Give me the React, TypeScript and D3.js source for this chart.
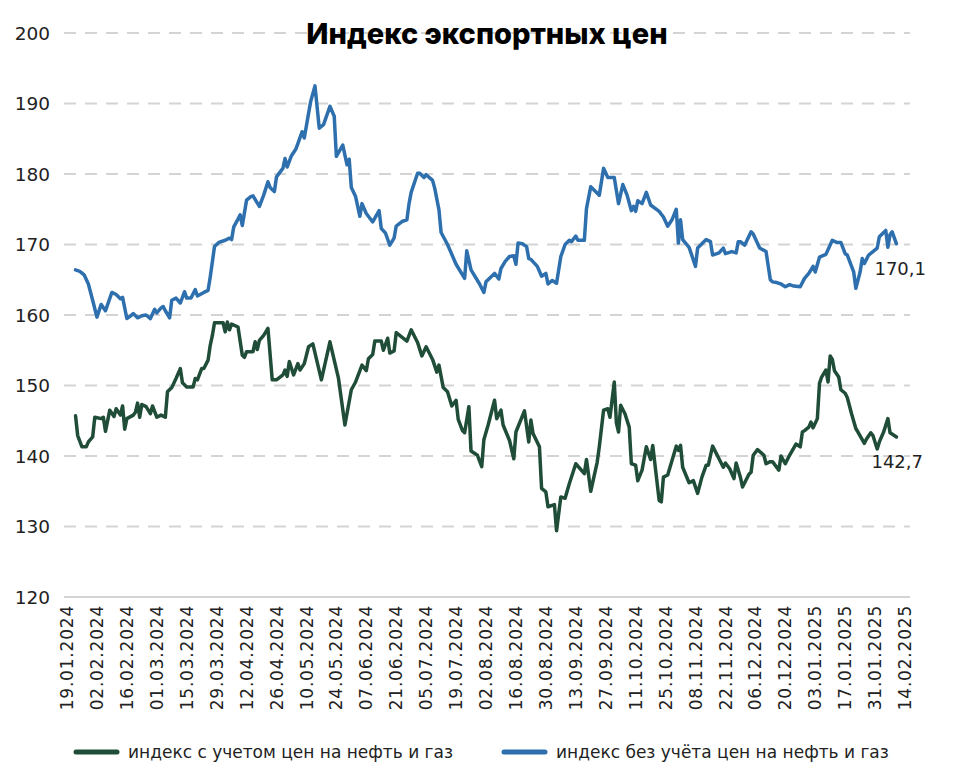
import React from "react";
import * as d3 from "d3";

const TITLE = "Индекс экспортных цен";
const SERIES_NAMES = ["индекс с учетом цен на нефть и газ", "индекс без учёта цен на нефть и газ"];
const Y_TICKS = [120, 130, 140, 150, 160, 170, 180, 190, 200];
const X_TICKS = [
  "2024-01-19", "2024-02-02", "2024-02-16", "2024-03-01", "2024-03-15", "2024-03-29", "2024-04-12",
  "2024-04-26", "2024-05-10", "2024-05-24", "2024-06-07", "2024-06-21", "2024-07-05", "2024-07-19",
  "2024-08-02", "2024-08-16", "2024-08-30", "2024-09-13", "2024-09-27", "2024-10-11", "2024-10-25",
  "2024-11-08", "2024-11-22", "2024-12-06", "2024-12-20", "2025-01-03", "2025-01-17", "2025-01-31",
  "2025-02-14",
];

// индекс с учетом цен на нефть и газ
const withOilGas: [string, number][] = [
  ["2024-01-23", 145.7], ["2024-01-24", 142.9], ["2024-01-26", 141.3], ["2024-01-28", 141.3], ["2024-01-29", 142.0],
  ["2024-01-31", 142.7], ["2024-02-01", 145.5], ["2024-02-04", 145.3], ["2024-02-05", 145.5], ["2024-02-06", 143.5],
  ["2024-02-08", 146.5], ["2024-02-10", 145.6], ["2024-02-11", 146.7], ["2024-02-13", 145.8], ["2024-02-14", 147.1],
  ["2024-02-15", 143.8], ["2024-02-16", 145.3], ["2024-02-19", 145.8], ["2024-02-20", 146.2], ["2024-02-21", 147.5],
  ["2024-02-22", 145.5], ["2024-02-23", 147.3], ["2024-02-25", 147.0], ["2024-02-27", 146.0], ["2024-02-28", 147.1],
  ["2024-03-01", 145.5], ["2024-03-03", 145.8], ["2024-03-05", 145.5], ["2024-03-06", 149.1], ["2024-03-08", 149.7],
  ["2024-03-10", 151.0], ["2024-03-12", 152.4], ["2024-03-13", 150.4], ["2024-03-15", 149.8], ["2024-03-18", 149.8],
  ["2024-03-19", 151.0], ["2024-03-20", 150.8], ["2024-03-22", 152.4], ["2024-03-23", 152.4], ["2024-03-25", 153.6],
  ["2024-03-26", 155.7], ["2024-03-27", 157.1], ["2024-03-28", 158.9], ["2024-03-30", 158.9], ["2024-04-01", 158.9],
  ["2024-04-02", 157.6], ["2024-04-03", 159.0], ["2024-04-04", 157.9], ["2024-04-05", 158.7], ["2024-04-08", 158.3],
  ["2024-04-10", 154.3], ["2024-04-11", 154.0], ["2024-04-12", 154.8], ["2024-04-15", 154.8], ["2024-04-16", 156.2],
  ["2024-04-17", 155.1], ["2024-04-18", 156.4], ["2024-04-20", 157.1], ["2024-04-22", 158.1], ["2024-04-24", 150.8],
  ["2024-04-26", 150.8], ["2024-04-29", 151.5], ["2024-04-30", 152.2], ["2024-05-01", 151.3], ["2024-05-02", 153.4],
  ["2024-05-04", 151.5], ["2024-05-06", 153.1], ["2024-05-07", 152.2], ["2024-05-09", 153.1], ["2024-05-11", 155.5],
  ["2024-05-13", 155.9], ["2024-05-17", 150.8], ["2024-05-21", 156.2], ["2024-05-25", 151.0], ["2024-05-28", 144.4],
  ["2024-05-31", 149.4], ["2024-06-02", 150.5], ["2024-06-05", 152.9], ["2024-06-07", 152.1], ["2024-06-08", 153.8],
  ["2024-06-10", 154.4], ["2024-06-11", 156.3], ["2024-06-14", 156.3], ["2024-06-15", 155.0], ["2024-06-17", 156.7],
  ["2024-06-18", 154.6], ["2024-06-20", 154.9], ["2024-06-21", 157.5], ["2024-06-26", 156.3], ["2024-06-28", 157.9],
  ["2024-07-01", 156.1], ["2024-07-03", 154.2], ["2024-07-05", 155.5], ["2024-07-08", 153.7], ["2024-07-10", 151.9],
  ["2024-07-11", 152.9], ["2024-07-13", 149.7], ["2024-07-15", 149.1], ["2024-07-17", 147.1], ["2024-07-19", 147.9],
  ["2024-07-20", 145.2], ["2024-07-22", 143.6], ["2024-07-23", 143.3], ["2024-07-25", 147.0], ["2024-07-26", 140.7],
  ["2024-07-29", 140.1], ["2024-07-31", 138.5], ["2024-08-01", 142.3], ["2024-08-03", 144.4], ["2024-08-06", 147.9],
  ["2024-08-07", 145.3], ["2024-08-09", 146.5], ["2024-08-10", 144.4], ["2024-08-13", 142.2], ["2024-08-15", 139.6],
  ["2024-08-16", 143.4], ["2024-08-20", 146.4], ["2024-08-22", 142.0], ["2024-08-23", 145.1], ["2024-08-24", 143.2],
  ["2024-08-27", 141.3], ["2024-08-28", 135.4], ["2024-08-30", 134.9], ["2024-08-31", 132.8], ["2024-09-03", 133.1],
  ["2024-09-04", 129.4], ["2024-09-06", 134.2], ["2024-09-08", 134.0], ["2024-09-10", 136.1], ["2024-09-13", 138.9],
  ["2024-09-17", 137.5], ["2024-09-18", 139.5], ["2024-09-20", 135.0], ["2024-09-23", 139.1], ["2024-09-24", 141.3],
  ["2024-09-26", 146.5], ["2024-09-28", 146.7], ["2024-09-29", 145.5], ["2024-10-01", 150.5], ["2024-10-02", 144.7],
  ["2024-10-03", 143.4], ["2024-10-04", 147.2], ["2024-10-06", 146.0], ["2024-10-08", 144.1], ["2024-10-09", 138.9],
  ["2024-10-11", 138.7], ["2024-10-12", 136.5], ["2024-10-14", 138.0], ["2024-10-16", 141.3], ["2024-10-18", 139.5],
  ["2024-10-19", 141.5], ["2024-10-22", 133.7], ["2024-10-23", 133.5], ["2024-10-24", 137.0], ["2024-10-26", 137.3],
  ["2024-10-30", 141.4], ["2024-10-31", 140.8], ["2024-11-01", 141.5], ["2024-11-02", 138.4], ["2024-11-05", 136.2],
  ["2024-11-07", 136.5], ["2024-11-09", 134.7], ["2024-11-11", 137.0], ["2024-11-13", 138.7], ["2024-11-14", 138.7],
  ["2024-11-16", 141.4], ["2024-11-19", 139.6], ["2024-11-21", 138.4], ["2024-11-22", 139.0], ["2024-11-24", 138.2],
  ["2024-11-26", 136.8], ["2024-11-27", 139.0], ["2024-11-29", 137.0], ["2024-11-30", 135.6], ["2024-12-03", 137.4],
  ["2024-12-04", 137.7], ["2024-12-05", 140.1], ["2024-12-07", 140.9], ["2024-12-10", 140.1], ["2024-12-11", 138.9],
  ["2024-12-13", 139.2], ["2024-12-14", 139.2], ["2024-12-17", 138.0], ["2024-12-18", 140.0], ["2024-12-20", 138.9],
  ["2024-12-22", 140.1], ["2024-12-25", 141.7], ["2024-12-27", 141.3], ["2024-12-28", 143.4], ["2024-12-29", 143.6],
  ["2024-12-31", 144.1], ["2025-01-01", 144.8], ["2025-01-02", 144.0], ["2025-01-04", 145.3], ["2025-01-05", 150.3],
  ["2025-01-06", 151.2], ["2025-01-08", 152.2], ["2025-01-09", 150.5], ["2025-01-10", 154.2], ["2025-01-11", 153.7],
  ["2025-01-12", 152.1], ["2025-01-14", 151.2], ["2025-01-15", 149.4], ["2025-01-17", 148.9], ["2025-01-18", 148.3],
  ["2025-01-20", 146.0], ["2025-01-22", 143.9], ["2025-01-23", 143.4], ["2025-01-26", 141.8], ["2025-01-27", 142.4],
  ["2025-01-29", 143.3], ["2025-01-30", 142.9], ["2025-02-01", 141.0], ["2025-02-02", 142.0], ["2025-02-04", 143.4],
  ["2025-02-06", 145.3], ["2025-02-07", 143.3], ["2025-02-09", 142.9], ["2025-02-10", 142.7],
];

// индекс без учёта цен на нефть и газ
const withoutOilGas: [string, number][] = [
  ["2024-01-23", 166.4], ["2024-01-25", 166.2], ["2024-01-27", 165.7], ["2024-01-29", 164.4], ["2024-01-31", 162.1],
  ["2024-02-02", 159.7], ["2024-02-04", 161.5], ["2024-02-06", 160.6], ["2024-02-09", 163.2], ["2024-02-11", 162.9],
  ["2024-02-13", 162.3], ["2024-02-14", 162.5], ["2024-02-16", 159.5], ["2024-02-17", 159.7], ["2024-02-19", 160.2],
  ["2024-02-21", 159.6], ["2024-02-23", 159.9], ["2024-02-25", 160.0], ["2024-02-27", 159.5], ["2024-02-29", 160.8],
  ["2024-03-01", 160.3], ["2024-03-03", 161.0], ["2024-03-04", 161.2], ["2024-03-05", 160.6], ["2024-03-07", 159.6],
  ["2024-03-08", 162.1], ["2024-03-10", 162.4], ["2024-03-12", 161.7], ["2024-03-14", 163.3], ["2024-03-15", 162.4],
  ["2024-03-17", 162.4], ["2024-03-19", 163.6], ["2024-03-20", 162.7], ["2024-03-23", 163.2], ["2024-03-25", 163.5],
  ["2024-03-26", 165.4], ["2024-03-28", 169.7], ["2024-03-30", 170.3], ["2024-04-02", 170.6], ["2024-04-04", 170.9],
  ["2024-04-05", 170.7], ["2024-04-06", 172.5], ["2024-04-08", 173.6], ["2024-04-09", 174.2], ["2024-04-10", 172.7],
  ["2024-04-12", 176.3], ["2024-04-14", 176.8], ["2024-04-15", 176.9], ["2024-04-18", 175.4], ["2024-04-20", 177.0],
  ["2024-04-22", 178.9], ["2024-04-23", 178.1], ["2024-04-25", 177.5], ["2024-04-26", 179.6], ["2024-04-28", 180.4],
  ["2024-04-29", 180.8], ["2024-04-30", 182.2], ["2024-05-01", 181.0], ["2024-05-03", 182.6], ["2024-05-05", 183.5],
  ["2024-05-06", 184.3], ["2024-05-08", 186.0], ["2024-05-09", 185.1], ["2024-05-11", 188.6], ["2024-05-12", 190.3],
  ["2024-05-14", 192.5], ["2024-05-16", 186.5], ["2024-05-18", 187.0], ["2024-05-21", 189.6], ["2024-05-23", 188.2],
  ["2024-05-24", 182.5], ["2024-05-27", 184.1], ["2024-05-29", 181.3], ["2024-05-30", 182.1], ["2024-05-31", 178.1],
  ["2024-06-02", 176.8], ["2024-06-04", 174.0], ["2024-06-05", 175.8], ["2024-06-07", 174.4], ["2024-06-10", 173.2],
  ["2024-06-13", 174.8], ["2024-06-14", 172.3], ["2024-06-16", 171.6], ["2024-06-18", 169.9], ["2024-06-20", 170.9],
  ["2024-06-21", 172.6], ["2024-06-24", 173.3], ["2024-06-26", 173.5], ["2024-06-27", 175.8], ["2024-06-28", 177.4],
  ["2024-07-01", 180.1], ["2024-07-02", 180.1], ["2024-07-04", 179.5], ["2024-07-05", 179.9], ["2024-07-08", 179.1],
  ["2024-07-09", 178.0], ["2024-07-11", 174.9], ["2024-07-12", 171.7], ["2024-07-15", 170.0], ["2024-07-19", 167.2],
  ["2024-07-23", 165.2], ["2024-07-24", 169.1], ["2024-07-26", 166.4], ["2024-07-30", 164.4], ["2024-08-01", 163.2],
  ["2024-08-02", 164.7], ["2024-08-06", 165.9], ["2024-08-08", 165.1], ["2024-08-09", 166.6], ["2024-08-11", 167.6],
  ["2024-08-13", 168.3], ["2024-08-15", 168.4], ["2024-08-16", 167.2], ["2024-08-17", 170.2], ["2024-08-19", 170.1],
  ["2024-08-21", 169.7], ["2024-08-22", 168.0], ["2024-08-23", 167.9], ["2024-08-26", 166.9], ["2024-08-28", 165.5],
  ["2024-08-30", 165.9], ["2024-08-31", 164.4], ["2024-09-02", 164.9], ["2024-09-04", 164.5], ["2024-09-06", 168.3],
  ["2024-09-08", 170.0], ["2024-09-10", 170.6], ["2024-09-11", 170.4], ["2024-09-13", 171.2], ["2024-09-14", 170.6],
  ["2024-09-17", 170.6], ["2024-09-18", 175.1], ["2024-09-20", 178.2], ["2024-09-24", 177.0], ["2024-09-26", 180.8],
  ["2024-09-28", 179.5], ["2024-10-01", 179.5], ["2024-10-03", 175.8], ["2024-10-05", 178.5], ["2024-10-07", 177.0],
  ["2024-10-09", 174.8], ["2024-10-10", 175.4], ["2024-10-11", 174.7], ["2024-10-12", 176.2], ["2024-10-14", 175.8],
  ["2024-10-16", 177.4], ["2024-10-18", 175.6], ["2024-10-22", 174.7], ["2024-10-23", 174.3], ["2024-10-24", 173.9],
  ["2024-10-26", 172.6], ["2024-10-28", 173.5], ["2024-10-30", 175.0], ["2024-10-31", 170.2], ["2024-11-01", 173.5],
  ["2024-11-02", 170.7], ["2024-11-05", 169.6], ["2024-11-08", 166.9], ["2024-11-09", 169.5], ["2024-11-13", 170.7],
  ["2024-11-15", 170.4], ["2024-11-16", 168.5], ["2024-11-19", 168.8], ["2024-11-21", 169.5], ["2024-11-22", 168.7],
  ["2024-11-25", 169.0], ["2024-11-27", 168.8], ["2024-11-28", 170.4], ["2024-11-29", 170.4], ["2024-12-01", 169.9],
  ["2024-12-04", 171.8], ["2024-12-05", 171.5], ["2024-12-08", 169.5], ["2024-12-11", 169.0], ["2024-12-13", 165.0],
  ["2024-12-14", 164.7], ["2024-12-16", 164.6], ["2024-12-18", 164.4], ["2024-12-20", 164.0], ["2024-12-22", 164.3],
  ["2024-12-24", 164.1], ["2024-12-27", 164.0], ["2024-12-29", 165.2], ["2024-12-31", 165.9], ["2025-01-02", 166.9],
  ["2025-01-03", 166.1], ["2025-01-05", 168.2], ["2025-01-08", 168.6], ["2025-01-11", 170.6], ["2025-01-13", 170.3],
  ["2025-01-15", 170.3], ["2025-01-17", 168.7], ["2025-01-18", 168.5], ["2025-01-21", 166.1], ["2025-01-22", 163.8],
  ["2025-01-24", 166.1], ["2025-01-25", 168.0], ["2025-01-26", 167.3], ["2025-01-28", 168.5], ["2025-01-30", 169.0],
  ["2025-02-01", 169.5], ["2025-02-02", 171.1], ["2025-02-05", 172.0], ["2025-02-06", 169.6], ["2025-02-07", 171.4],
  ["2025-02-08", 171.8], ["2025-02-10", 170.1],
];

const COLORS = ["#1f4d38", "#2e6fae"];

const W = 974;
const H = 782;
const M = { left: 67, right: 905, top: 33, bottom: 597 };

const parse = d3.timeParse("%Y-%m-%d");
const fmtTick = d3.timeFormat("%d.%m.%Y");
const fmtVal = (v: number) => v.toFixed(1).replace(".", ",");

export default function App() {
  const xTicks = X_TICKS.map((s) => parse(s) as Date);
  const x = d3
    .scaleTime()
    .domain([xTicks[0], xTicks[xTicks.length - 1]])
    .range([M.left, M.right]);
  const y = d3.scaleLinear().domain([120, 200]).range([M.bottom, M.top]);

  const line = d3
    .line<[string, number]>()
    .x((d) => x(parse(d[0]) as Date))
    .y((d) => y(d[1]))
    .curve(d3.curveLinear);

  const series = [withOilGas, withoutOilGas];
  const gridX0 = M.left - 3;
  const gridX1 = M.right + 5;
  const font = "'DejaVu Sans', 'Noto Sans', sans-serif";

  const lastG = withOilGas[withOilGas.length - 1];
  const lastB = withoutOilGas[withoutOilGas.length - 1];

  return (
    <svg
      width={W}
      height={H}
      style={{ position: "absolute", left: 0, top: 0, background: "#fff" }}
      fontFamily={font}
    >
      {Y_TICKS.map((t) => (
        <g key={t}>
          <line
            x1={gridX0}
            x2={gridX1}
            y1={y(t)}
            y2={y(t)}
            stroke="#d4d4d4"
            strokeWidth={2}
            strokeDasharray={t === 120 ? undefined : "12 9"}
          />
          <text x={50} y={y(t)} dy="0.36em" textAnchor="end" fontSize={18.5} fill="#222">
            {t}
          </text>
        </g>
      ))}

      {xTicks.map((d, i) => (
        <text
          key={i}
          transform={`translate(${x(d)},${M.bottom + 8}) rotate(-90)`}
          textAnchor="end"
          dy="0.36em"
          fontSize={17}
          letterSpacing={0.8}
          fill="#222"
        >
          {fmtTick(d)}
        </text>
      ))}

      {series.map((s, i) => (
        <path
          key={i}
          d={line(s) || ""}
          fill="none"
          stroke={COLORS[i]}
          strokeWidth={3.5}
          strokeLinejoin="round"
          strokeLinecap="round"
        />
      ))}

      <text x={x(parse(lastB[0]) as Date) - 22} y={y(lastB[1]) + 31} fontSize={18} fill="#222">
        {fmtVal(lastB[1])}
      </text>
      <text x={x(parse(lastG[0]) as Date) - 25} y={y(lastG[1]) + 31} fontSize={18} fill="#222">
        {fmtVal(lastG[1])}
      </text>

      <text
        x={487}
        y={44}
        textAnchor="middle"
        fontSize={29}
        fontWeight={800}
        fontFamily="Inter, 'Open Sans', sans-serif"
        fill="#000"
      >
        {TITLE}
      </text>

      <g>
        <line x1={76} x2={117} y1={752} y2={752} stroke={COLORS[0]} strokeWidth={5} strokeLinecap="round" />
        <text x={128} y={752} dy="0.36em" fontSize={17} fill="#222">
          {SERIES_NAMES[0]}
        </text>
        <line x1={504} x2={545} y1={752} y2={752} stroke={COLORS[1]} strokeWidth={5} strokeLinecap="round" />
        <text x={556} y={752} dy="0.36em" fontSize={17} fill="#222">
          {SERIES_NAMES[1]}
        </text>
      </g>
    </svg>
  );
}
